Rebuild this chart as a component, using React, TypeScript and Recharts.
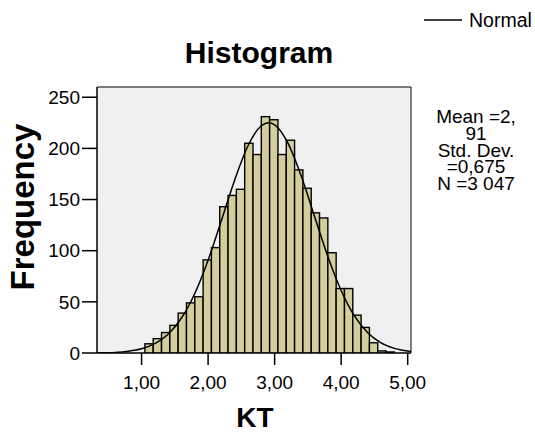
import { ComposedChart, Bar, Line, XAxis, YAxis, CartesianGrid, ReferenceArea } from "recharts";

// histogram bins (centre of each 0,125 wide bin) and counts
const binCenters = [
  1.1125, 1.2375, 1.3625, 1.4875, 1.6125, 1.7375, 1.8625, 1.9875, 2.1125, 2.2375,
  2.3625, 2.4875, 2.6125, 2.7375, 2.8625, 2.9875, 3.1125, 3.2375, 3.3625, 3.4875,
  3.6125, 3.7375, 3.8625, 3.9875, 4.1125, 4.2375, 4.3625, 4.4875, 4.6125, 4.7375,
];
const counts = [
  9, 14, 20, 27, 39, 49, 55, 91, 103, 143,
  154, 160, 205, 194, 231, 228, 194, 208, 179, 161,
  137, 132, 98, 63, 63, 37, 25, 10, 2, 1,
];

// normal curve as drawn
const curveX = [0.35, 0.6, 0.8, 1.0, 1.2, 1.4, 1.6, 1.8, 2.0, 2.2, 2.4, 2.6, 2.8, 2.91, 3.0, 3.2, 3.4, 3.6, 3.8, 4.0, 4.2, 4.4, 4.6, 4.8, 5.05];
const curveY = [0.2, 0.6, 1.7, 4.1, 9.1, 18.4, 34.2, 58.2, 90.7, 129.5, 169.2, 202.6, 222.1, 225.1, 223.1, 205.2, 173.0, 133.5, 94.4, 61.1, 36.2, 19.7, 9.8, 4.5, 1.5];

const xTicks = [1, 2, 3, 4, 5];
const yTicks = [0, 50, 100, 150, 200, 250];
const statLines = ["Mean =2,", "91", "Std. Dev.", "=0,675", "N =3 047"];

const bins = binCenters.map((x, i) => ({ x, count: counts[i] }));
const curve = curveX.map((x, i) => ({ x, y: curveY[i] }));

const W = 535;
const H = 437;
const FONT = "'Liberation Sans', Arial, sans-serif";
const X_DOMAIN: [number, number] = [0.33, 5.05];
const BIN_WIDTH = 0.125;
const margin = { top: 87, right: 124, bottom: 0, left: 0 };
const Y_AXIS_W = 97;
const plotW = W - margin.left - margin.right - Y_AXIS_W;
const barPx = (BIN_WIDTH * plotW) / (X_DOMAIN[1] - X_DOMAIN[0]);

const fmt = (v: number) => v.toFixed(2).replace(".", ",");

// recharts gives thin bars on a number axis, so widen each one around its centre
function BinBar(props: any) {
  const { x, y, width, height } = props;
  if (!height || height <= 0) return null;
  const cx = x + width / 2;
  return (
    <rect
      x={cx - barPx / 2}
      y={y}
      width={barPx}
      height={height}
      fill="#d3ce9b"
      stroke="#000"
      strokeWidth={1.4}
    />
  );
}

export default function App() {
  return (
    <div style={{ position: "absolute", left: 0, top: 0, width: W, height: H, background: "#fff" }}>
      <ComposedChart width={W} height={H} data={bins} margin={margin}>
        <CartesianGrid fill="#f0f0f0" horizontal={false} vertical={false} />
        <XAxis
          type="number"
          dataKey="x"
          domain={X_DOMAIN}
          allowDataOverflow
          ticks={xTicks}
          tickFormatter={fmt}
          height={84}
          tickSize={12}
          tickMargin={11}
          axisLine={{ stroke: "#000" }}
          tickLine={{ stroke: "#000", strokeWidth: 1.5 }}
          tick={{ fill: "#000", fontSize: 19, fontFamily: FONT }}
        />
        <YAxis
          type="number"
          domain={[0, 260]}
          allowDataOverflow
          ticks={yTicks}
          width={Y_AXIS_W}
          tickSize={15}
          tickMargin={2}
          axisLine={{ stroke: "#000" }}
          tickLine={{ stroke: "#000", strokeWidth: 1.5 }}
          tick={{ fill: "#000", fontSize: 19, fontFamily: FONT }}
        />
        <Bar dataKey="count" shape={<BinBar />} isAnimationActive={false} />
        <Line
          data={curve}
          dataKey="y"
          type="monotone"
          stroke="#000"
          strokeWidth={1.5}
          dot={false}
          activeDot={false}
          isAnimationActive={false}
        />
        <ReferenceArea y1={0} y2={260} fill="none" stroke="#000" strokeWidth={1} ifOverflow="visible" />
      </ComposedChart>
      <svg width={W} height={H} style={{ position: "absolute", left: 0, top: 0, pointerEvents: "none" }}>
        <text x={259} y={63} textAnchor="middle" fontFamily={FONT} fontWeight="bold" fontSize={30} fill="#000">
          Histogram
        </text>
        <text
          transform="translate(34,207) rotate(-90)"
          textAnchor="middle"
          fontFamily={FONT}
          fontWeight="bold"
          fontSize={33}
          fill="#000"
        >
          Frequency
        </text>
        <text x={255} y={427} textAnchor="middle" fontFamily={FONT} fontWeight="bold" fontSize={28} fill="#000">
          KT
        </text>
        <line x1={424} y1={20} x2={462} y2={20} stroke="#000" strokeWidth={1.5} />
        <text x={469} y={27} fontFamily={FONT} fontSize={19.5} fill="#000">
          Normal
        </text>
        {statLines.map((s, i) => (
          <text key={i} x={476} y={123 + i * 16.8} textAnchor="middle" fontFamily={FONT} fontSize={19} fill="#000">
            {s}
          </text>
        ))}
      </svg>
    </div>
  );
}
